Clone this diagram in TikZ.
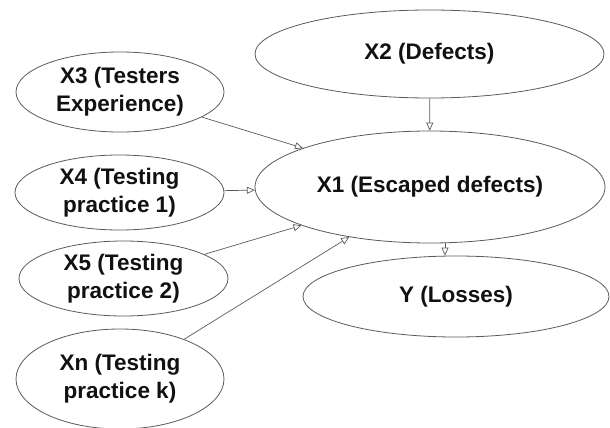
\documentclass[tikz,border=0pt]{standalone}
\usepackage{fontspec}
\setmainfont{Liberation Sans}
\usetikzlibrary{shapes.geometric,arrows.meta}
\definecolor{linegray}{HTML}{5A5A5A}
\definecolor{textblack}{HTML}{111111}
\begin{document}
\begin{tikzpicture}[x=1pt,y=-1pt,
  ell/.style={draw=linegray, line width=0.8pt, ellipse, inner sep=0pt, align=center,
    text=textblack, font=\bfseries\fontsize{22.5}{28}\selectfont},
  conn/.style={draw=linegray, line width=0.7pt, -{Triangle[open,length=8pt,width=7pt]}}]
\useasboundingbox (0,0) rectangle (610,428);
\node[ell, minimum width=349pt, minimum height=88pt] (x2) at (429.5,54) {X2 (Defects)};
\node[ell, minimum width=208pt, minimum height=80pt] (x3) at (120,92) {X3 (Testers\\Experience)};
\node[ell, minimum width=209pt, minimum height=75pt] (x4) at (119.5,192.5) {X4 (Testing\\practice 1)};
\node[ell, minimum width=350pt, minimum height=112pt] (x1) at (430,187) {X1 (Escaped defects)};
\node[ell, minimum width=209pt, minimum height=75pt] (x5) at (123.5,278.5) {X5 (Testing\\practice 2)};
\node[ell, minimum width=306pt, minimum height=81pt] (y) at (456,296.5) {Y (Losses)};
\node[ell, minimum width=208pt, minimum height=100pt] (xn) at (120,379) {Xn (Testing\\practice k)};
\draw[conn] (x2) -- (x1);
\draw[conn] (x3) -- (x1);
\draw[conn] (x4) -- (x1);
\draw[conn] (x5) -- (x1);
\draw[conn] (xn) -- (x1);
\draw[conn] ([xshift=15pt]x1.south) -- ([xshift=-11pt]y.north);
\end{tikzpicture}
\end{document}
